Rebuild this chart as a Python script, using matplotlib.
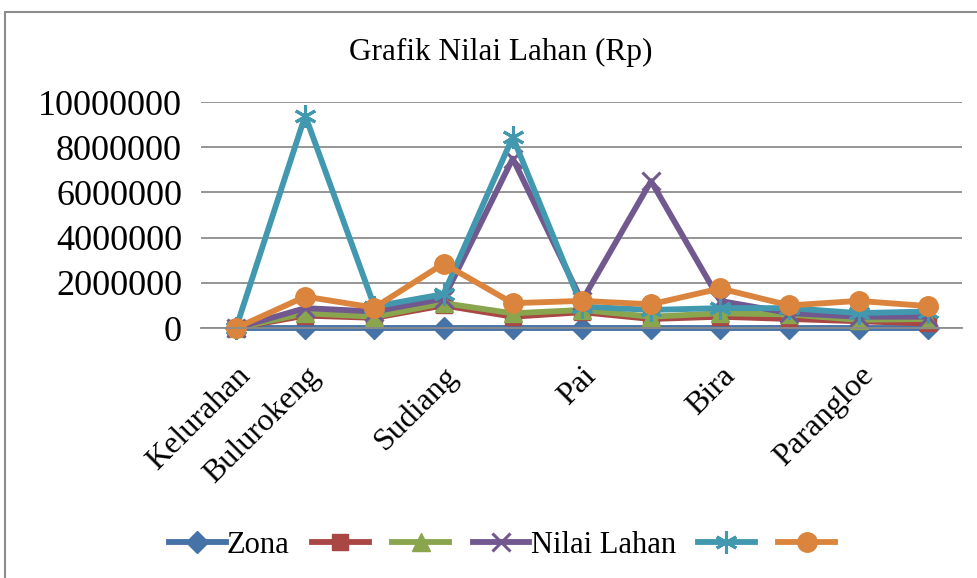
import matplotlib
matplotlib.use('Agg')
from matplotlib import pyplot as plt
from matplotlib.patches import Rectangle
import numpy as np

# categories (Excel shows only some of the names)
categories = ['Kelurahan', 'Bulurokeng', '', 'Sudiang', '', 'Pai', '', 'Bira', '', 'Parangloe', '']

# series values (Rp)
zona = [0, 0, 0, 0, 0, 0, 0, 0, 0, 0, 0]
seri2 = [0, 550000, 450000, 1000000, 500000, 700000, 400000, 500000, 400000, 300000, 200000]
seri3 = [0, 650000, 500000, 1100000, 650000, 800000, 500000, 650000, 600000, 360000, 400000]
nilai_lahan = [0, 880000, 730000, 1300000, 7500000, 1200000, 6500000, 1200000, 660000, 500000, 500000]
seri5 = [0, 9400000, 950000, 1500000, 8450000, 950000, 800000, 880000, 880000, 660000, 730000]
seri6 = [0, 1390000, 900000, 2850000, 1100000, 1200000, 1050000, 1750000, 1000000, 1200000, 970000]

series = [
    ('Zona', zona, '#4572A7', 'D', 11),
    ('', seri2, '#AA4643', 's', 12),
    ('', seri3, '#89A54E', '^', 13),
    ('Nilai Lahan', nilai_lahan, '#71588F', 'x', 13),
    ('', seri5, '#4198AF', (6, 2, 0), 16),
    ('', seri6, '#DB843D', 'o', 14),
]

font = 'Liberation Serif'
fig = plt.figure(figsize=(9.78, 5.78), dpi=100)
ax = fig.add_axes([0.206, 0.4325, 0.778, 0.391])

x = np.arange(len(categories))
handles = []
for name, vals, color, marker, ms in series:
    mew = 2.2 if marker in ('x', (6, 2, 0)) else 1
    h, = ax.plot(x, vals, color=color, linewidth=4.2, marker=marker, markersize=ms,
                 markeredgewidth=mew, markeredgecolor=color, clip_on=False)
    handles.append(h)

ax.set_xlim(-0.5, len(categories) - 0.5)
ax.set_ylim(0, 10000000)
ax.set_yticks(np.arange(0, 10000001, 2000000))
ax.set_yticklabels([str(v) for v in range(0, 10000001, 2000000)], fontfamily=font, fontsize=26)
ax.yaxis.grid(True, color='#8c8c8c', linewidth=1.3)
ax.set_axisbelow(True)

label_pos = [i for i, c in enumerate(categories) if c]
ax.set_xticks(label_pos)
ax.set_xticklabels([categories[i] for i in label_pos], rotation=45, ha='right',
                   rotation_mode='anchor', fontfamily=font, fontsize=23)
ax.tick_params(axis='y', length=0, pad=14)
ax.tick_params(axis='x', length=0, pad=24)

for s in ['top', 'right', 'left']:
    ax.spines[s].set_visible(False)
ax.spines['bottom'].set_color('#8c8c8c')
ax.spines['bottom'].set_linewidth(1.3)

fig.text(0.512, 0.91, 'Grafik Nilai Lahan (Rp)', ha='center', va='center',
         fontfamily=font, fontsize=22.5)

fig.legend(handles, [s[0] for s in series], loc='center', bbox_to_anchor=(0.514, 0.057),
           ncol=6, frameon=False, prop={'family': font, 'size': 22}, handlelength=1.86,
           columnspacing=0.72, handletextpad=0.05, borderaxespad=0)

# chart border
fig.patches.append(Rectangle((5 / 978, -0.1), 1.1, 1.1 - 12 / 578, transform=fig.transFigure,
                             fill=False, edgecolor='#8c8c8c', linewidth=1.5))

fig.savefig('out.png', dpi=100)
